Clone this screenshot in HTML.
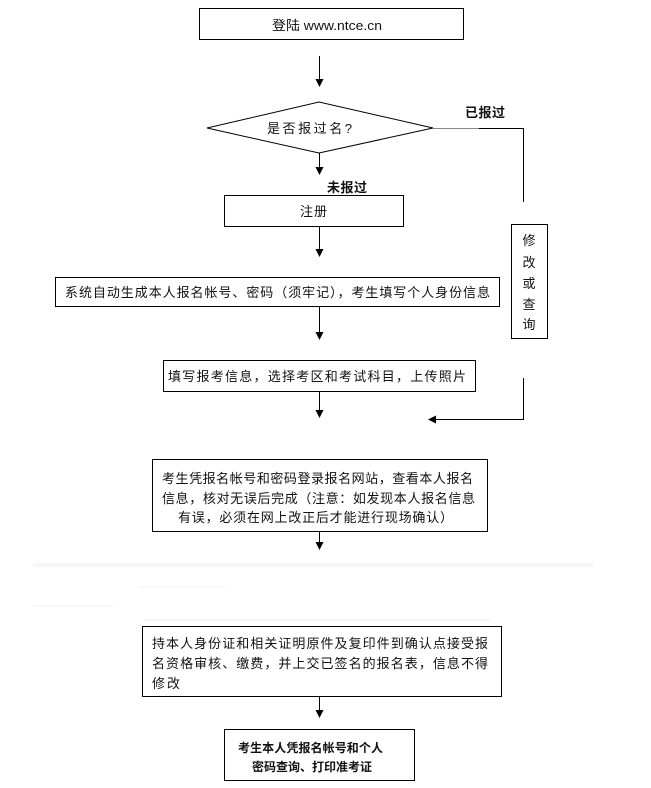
<!DOCTYPE html>
<html>
<head>
<meta charset="utf-8">
<style>
html,body{margin:0;padding:0;background:#fff;}
svg{display:block;}
text{font-family:"Liberation Sans","Noto Sans CJK SC",sans-serif;font-size:13px;fill:#111;}
.b{font-weight:bold;font-size:13px;}
.bb{font-weight:bold;font-size:12px;}
</style>
</head>
<body>
<svg width="651" height="788" viewBox="0 0 651 788" xmlns="http://www.w3.org/2000/svg">
<rect x="0" y="0" width="651" height="788" fill="#fff"/>
<g fill="none" stroke="#000" stroke-width="1">
  <rect x="199.5" y="8.5" width="264" height="31"/>
  <line x1="319.5" y1="56" x2="319.5" y2="80"/>
  <polygon points="207,128 319,102 433,128 319,153"/>
  <line x1="319.5" y1="153" x2="319.5" y2="168"/>
  <rect x="224.5" y="195.5" width="179" height="31"/>
  <line x1="319.5" y1="226" x2="319.5" y2="250"/>
  <rect x="55.5" y="277.5" width="444" height="29"/>
  <line x1="319.5" y1="307" x2="319.5" y2="333"/>
  <rect x="163.5" y="360.5" width="312" height="31"/>
  <line x1="319.5" y1="392" x2="319.5" y2="411"/>
  <line x1="479" y1="128.5" x2="524" y2="128.5"/>
  <line x1="523.5" y1="128" x2="523.5" y2="202"/>
  <rect x="511.5" y="224.5" width="36" height="114"/>
  <line x1="523.5" y1="378" x2="523.5" y2="420"/>
  <line x1="524" y1="419.5" x2="435" y2="419.5"/>
  <rect x="152.5" y="459.5" width="335" height="72"/>
  <line x1="319.5" y1="532" x2="319.5" y2="543"/>
  <rect x="142.5" y="626.5" width="359" height="70"/>
  <line x1="319.5" y1="697" x2="319.5" y2="711"/>
  <rect x="224.5" y="729.5" width="190" height="51"/>
</g>
<line x1="433" y1="128.5" x2="479" y2="128.5" stroke="#888" stroke-width="1"/>
<g fill="#000">
  <polygon points="315.5,79 323.5,79 319.5,87"/>
  <polygon points="315.5,167 323.5,167 319.5,175"/>
  <polygon points="315.5,249 323.5,249 319.5,257"/>
  <polygon points="315.5,332 323.5,332 319.5,340"/>
  <polygon points="315.5,410 323.5,410 319.5,418"/>
  <polygon points="428,419.5 436,415.5 436,423.5"/>
  <polygon points="315.5,542 323.5,542 319.5,550"/>
  <polygon points="315.5,710 323.5,710 319.5,718"/>
</g>
<rect x="33" y="563" width="560" height="4" fill="#f5f5fa"/>
<rect x="140" y="586" width="85" height="2" fill="#f7f7fa"/>
<rect x="33" y="605" width="80" height="2" fill="#f7f7fa"/>
<rect x="145" y="619" width="345" height="2" fill="#f5f5fa"/>

<text x="272" y="30" textLength="110" lengthAdjust="spacingAndGlyphs">登陆 www.ntce.cn</text>
<text x="267" y="133" textLength="85" lengthAdjust="spacing">是否报过名?</text>
<text class="b" x="465" y="117" textLength="40" lengthAdjust="spacing">已报过</text>
<text class="b" x="327" y="192" textLength="40" lengthAdjust="spacing">未报过</text>
<text x="300" y="216" textLength="27" lengthAdjust="spacing">注册</text>
<text x="65" y="297" textLength="425" lengthAdjust="spacing">系统自动生成本人报名帐号、密码（须牢记），考生填写个人身份信息</text>
<text x="168" y="381" textLength="298" lengthAdjust="spacing">填写报考信息，选择考区和考试科目，上传照片</text>
<g text-anchor="middle">
  <text x="529" y="245">修</text>
  <text x="529" y="267">改</text>
  <text x="529" y="288">或</text>
  <text x="529" y="309">查</text>
  <text x="529" y="329">询</text>
</g>
<text x="162" y="483" textLength="311" lengthAdjust="spacing">考生凭报名帐号和密码登录报名网站，查看本人报名</text>
<text x="162" y="503" textLength="313" lengthAdjust="spacing">信息，核对无误后完成（注意：如发现本人报名信息</text>
<text x="178" y="522" textLength="275" lengthAdjust="spacing">有误，必须在网上改正后才能进行现场确认）</text>
<text x="152" y="648" textLength="336" lengthAdjust="spacing">持本人身份证和相关证明原件及复印件到确认点接受报</text>
<text x="152" y="668" textLength="336" lengthAdjust="spacing">名资格审核、缴费，并上交已签名的报名表，信息不得</text>
<text x="152" y="688" textLength="28" lengthAdjust="spacing">修改</text>
<text class="bb" x="238" y="752" textLength="145" lengthAdjust="spacing">考生本人凭报名帐号和个人</text>
<text class="bb" x="252" y="771" textLength="120" lengthAdjust="spacing">密码查询、打印准考证</text>
</svg>
</body>
</html>
